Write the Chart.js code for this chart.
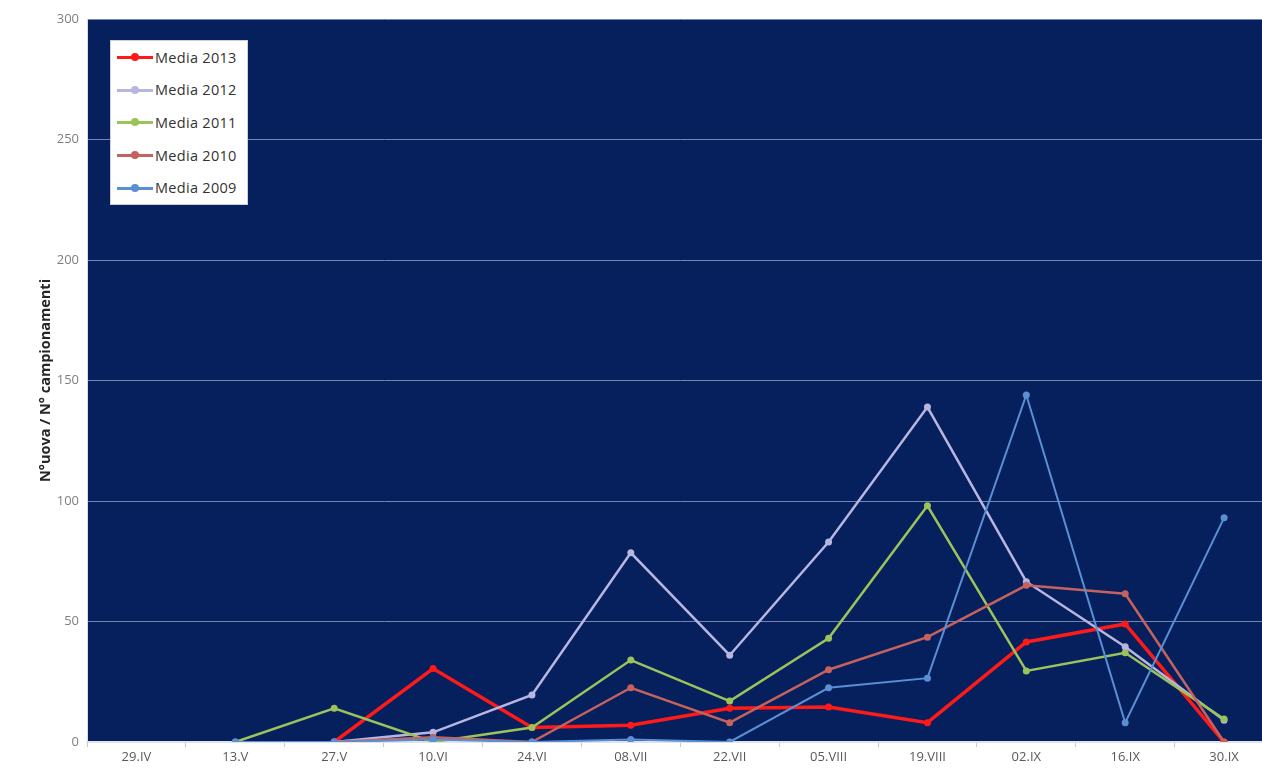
<!DOCTYPE html>
<html>
<head>
<meta charset="utf-8">
<script src="https://cdn.jsdelivr.net/npm/chart.js@4"></script>
<style>
    html, body { margin: 0; padding: 0; background: #fff; overflow: hidden; }
    #wrap { position: relative; width: 1262px; height: 773px; overflow: hidden; }
    #box { position: absolute; left: 0; top: 0; width: 1277px; height: 773px; }
    #legend {
        position: absolute; left: 110px; top: 40px; width: 138px; height: 165px;
        background: #fff; border: 1px solid #d0d0d0; box-sizing: border-box;
        font-family: "Open Sans", sans-serif; font-size: 14.5px; letter-spacing: 0.3px; color: #333;
        padding-top: 0px;
    }
    .item { height: 32.6px; display: flex; align-items: center; padding-left: 6px; }
    .sample { position: relative; width: 36px; height: 10px; margin-right: 2px; }
    .sample .ln { position: absolute; left: 0; right: 0; top: 4px; height: 3px; }
    .sample .dot { position: absolute; left: 14px; top: 1px; width: 8px; height: 8px; border-radius: 50%; }
</style>
</head>
<body>
<div id="wrap">
    <div id="box"><canvas id="chart"></canvas></div>
    <div id="legend"></div>
</div>
<script>
document.addEventListener("DOMContentLoaded", () => {
    const dates = ["29.IV", "13.V", "27.V", "10.VI", "24.VI", "08.VII", "22.VII", "05.VIII", "19.VIII", "02.IX", "16.IX", "30.IX"];

    const media2013 = [null, null, 0, 30.5, 6, 7, 14, 14.5, 8, 41.5, 49, 0];
    const media2012 = [null, null, 0, 4, 19.5, 78.5, 36, 83, 139, 66.5, 39.5, 9];
    const media2011 = [null, 0, 14, 0, 6, 34, 17, 43, 98, 29.5, 37, 9.5];
    const media2010 = [null, null, 0, 2, 0, 22.5, 8, 30, 43.5, 65, 61.5, 0];
    const media2009 = [null, 0, 0, 1, 0, 1, 0, 22.5, 26.5, 144, 8, 93];

    const yTicks = [0, 50, 100, 150, 200, 250, 300];

    const series = [
        { label: "Media 2013", data: media2013, color: "#ff1a1a", width: 3.5 },
        { label: "Media 2012", data: media2012, color: "#b8b6e0", width: 2.5 },
        { label: "Media 2011", data: media2011, color: "#9bc35a", width: 2.5 },
        { label: "Media 2010", data: media2010, color: "#c5625e", width: 2.5 },
        { label: "Media 2009", data: media2009, color: "#5b8fd4", width: 2 }
    ];

    // legend (html, vertical like the original)
    const legend = document.getElementById("legend");
    series.forEach(s => {
        const div = document.createElement("div");
        div.className = "item";
        div.innerHTML = `<span class="sample"><span class="ln" style="background:${s.color}"></span><span class="dot" style="background:${s.color}"></span></span>${s.label}`;
        legend.appendChild(div);
    });

    const plotBg = {
        id: "plotBg",
        beforeDraw(chart) {
            const { ctx, chartArea: a } = chart;
            ctx.save();
            ctx.fillStyle = "#06205e";
            ctx.fillRect(a.left, a.top, a.right - a.left, a.bottom - a.top);
            ctx.restore();
        }
    };

    const ctx = document.getElementById("chart").getContext("2d");
    new Chart(ctx, {
        type: "line",
        data: {
            labels: dates,
            // draw 2009 first so 2013 ends on top
            datasets: series.slice().reverse().map(s => ({
                label: s.label,
                data: s.data,
                borderColor: s.color,
                backgroundColor: s.color,
                borderWidth: s.width,
                pointRadius: 3.5,
                pointHoverRadius: 3.5,
                pointBorderWidth: 0,
                tension: 0,
                spanGaps: false
            }))
        },
        options: {
            responsive: true,
            maintainAspectRatio: false,
            animation: false,
            layout: { padding: { left: 37, top: 19, right: 0, bottom: 0 } },
            plugins: {
                legend: { display: false },
                tooltip: { enabled: false }
            },
            scales: {
                x: {
                    offset: true,
                    grid: {
                        offset: true,
                        drawOnChartArea: false,
                        drawTicks: true,
                        tickLength: 5,
                        color: "#c8c8c8"
                    },
                    border: { display: true, color: "#dfe3ea", width: 2 },
                    ticks: {
                        color: "#595959",
                        font: { family: "Open Sans", size: 13 },
                        padding: 2,
                        maxRotation: 0,
                        autoSkip: false
                    },
                    afterFit: s => { s.height = 31; }
                },
                y: {
                    min: 0,
                    max: 300,
                    afterBuildTicks: s => { s.ticks = yTicks.map(v => ({ value: v })); },
                    grid: {
                        color: "#7386b0",
                        lineWidth: 1,
                        drawTicks: false
                    },
                    border: { display: true, color: "#d8dce6", width: 1 },
                    ticks: {
                        color: "#7f7f7f",
                        font: { family: "Open Sans", size: 13 },
                        padding: 8
                    },
                    title: {
                        display: true,
                        text: "N°uova / N° campionamenti",
                        color: "#262626",
                        font: { family: "Open Sans", size: 14.5, weight: "bold" },
                        padding: 0
                    },
                    afterFit: s => { s.width = 50; }
                }
            }
        },
        plugins: [plotBg]
    });
});
</script>
</body>
</html>
